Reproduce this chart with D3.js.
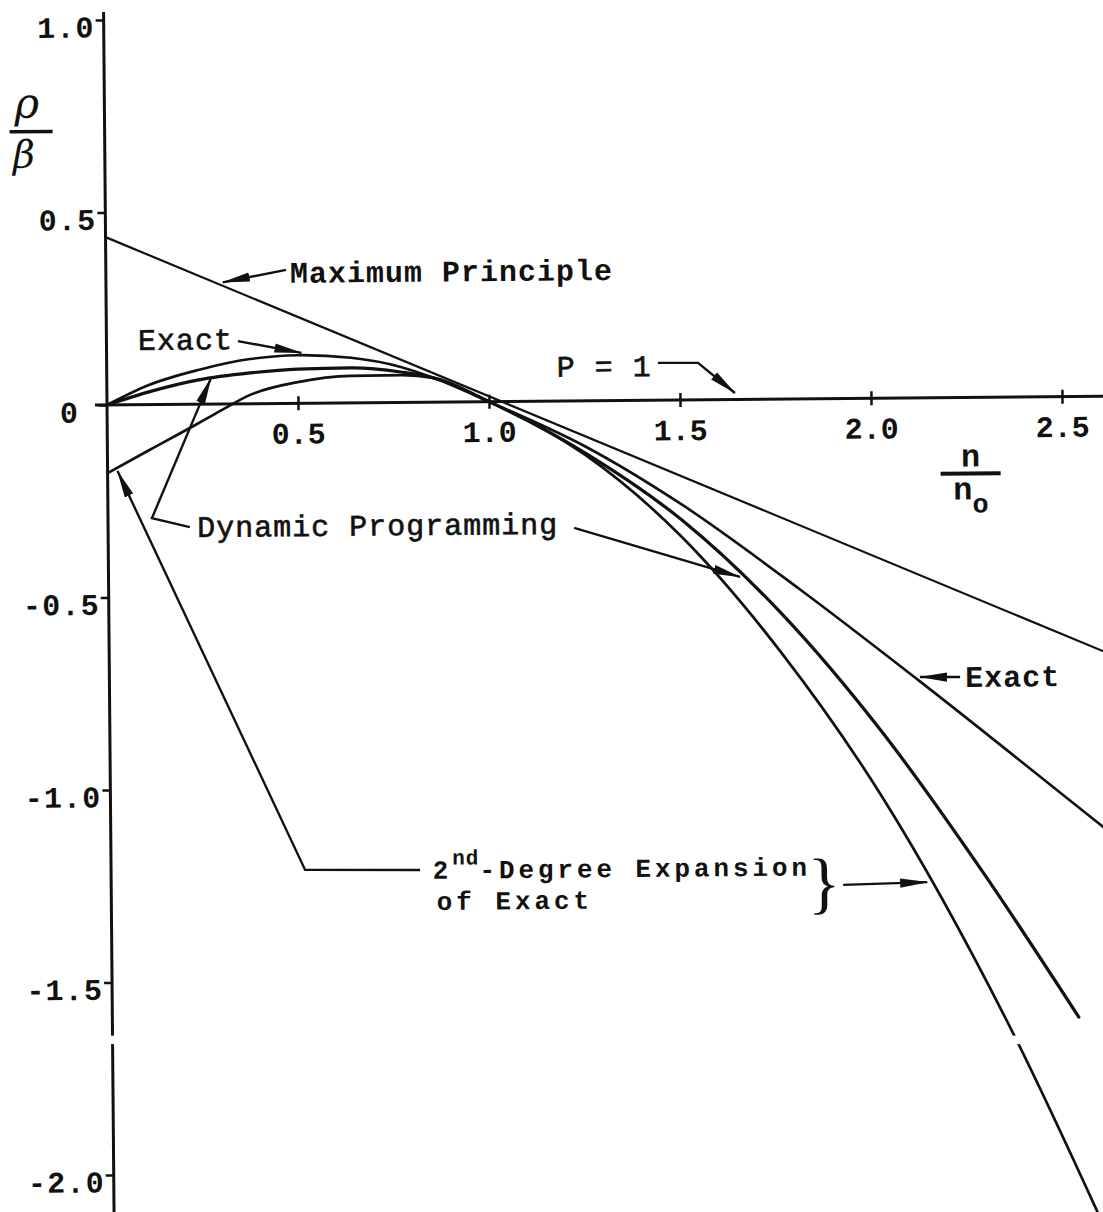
<!DOCTYPE html>
<html>
<head>
<meta charset="utf-8">
<script src="https://cdn.jsdelivr.net/npm/d3@7"></script>
<style>
  body { margin: 0; background: #fff; }
  svg { display: block; }
  .tw { font-family: "Liberation Mono", "Courier New", monospace; fill: #111; }
</style>
</head>
<body>
<svg id="chart" width="1103" height="1212"></svg>
<script>
// axis ticks
const xTicks = [0.5, 1.0, 1.5, 2.0, 2.5];
const yTicks = [1.0, 0.5, 0, -0.5, -1.0, -1.5, -2.0];

// curves (n/n0 , rho/beta)
const maxPrincipleN = [0, 2.63];
const maxPrincipleRho = [0.436, -0.674];

const exactN = [0, 0.11, 0.24, 0.375, 0.5, 0.64, 0.77, 0.855, 1.0, 1.25, 1.5, 1.81, 2.12, 2.6, 2.65];
const exactRho = [0, 0.051, 0.089, 0.116, 0.125, 0.117, 0.092, 0.063, 0, -0.118, -0.27, -0.495, -0.735, -1.12, -1.16];

const dpN = [0, 0.11, 0.24, 0.375, 0.5, 0.64, 0.77, 0.855, 1.0, 1.25, 1.5, 1.76, 2.02, 2.28, 2.53];
const dpRho = [0, 0.033, 0.063, 0.08, 0.089, 0.091, 0.079, 0.063, 0, -0.135, -0.31, -0.556, -0.865, -1.23, -1.612];

const secondN = [0, 0.11, 0.24, 0.3, 0.375, 0.5, 0.64, 0.77, 0.855, 1.0, 1.25, 1.5, 1.76, 2.02, 2.35, 2.62];
const secondRho = [-0.177, -0.118, -0.049, -0.016, 0.023, 0.055, 0.07, 0.071, 0.063, 0, -0.14, -0.354, -0.659, -1.035, -1.637, -2.22];

// the scan has a thin blank strip across the page
const scanGapRho = [-1.638, -1.66];

const svg = d3.select("#chart");

const x = d3.scaleLinear().domain([0, 2.5]).range([107, 1062]);
const y = d3.scaleLinear().domain([-2, 1]).range([1175, 20]);

// the page is scanned slightly crooked
const g = svg.append("g").attr("transform", "rotate(-0.5,105,405)");

const defs = svg.append("defs");
defs.append("marker")
  .attr("id", "arrow")
  .attr("markerUnits", "userSpaceOnUse")
  .attr("viewBox", "0 -6 28 12")
  .attr("refX", 27)
  .attr("refY", 0)
  .attr("markerWidth", 28)
  .attr("markerHeight", 12)
  .attr("orient", "auto")
  .append("path")
  .attr("d", "M0,-4.6L28,0L0,4.6Z")
  .attr("fill", "#111");

// y axis
const yAxis = g.append("g")
  .attr("transform", `translate(${x(0)},0)`)
  .call(d3.axisLeft(y).tickValues(yTicks).tickSize(8)
    .tickFormat((d) => (d === 0 ? "0" : d.toFixed(1))));
yAxis.select(".domain").remove();
yAxis.selectAll(".tick line").attr("stroke", "#111").attr("stroke-width", 2.5);
yAxis.selectAll(".tick text")
  .attr("class", "tw")
  .attr("x", (d) => (d === 0 ? -28 : -9))
  .attr("dy", "0.56em")
  .attr("font-size", 30)
  .attr("letter-spacing", 1.2)
  .attr("font-weight", "bold")
  .attr("fill", "#111");

g.append("line")
  .attr("x1", x(0)).attr("x2", x(0))
  .attr("y1", 12).attr("y2", 1230)
  .attr("stroke", "#111").attr("stroke-width", 3);

// x axis
const xAxis = g.append("g")
  .attr("transform", `translate(0,${y(0)})`)
  .call(d3.axisBottom(x).tickValues(xTicks).tickSize(7).tickFormat(d3.format(".1f")));
xAxis.select(".domain").remove();
xAxis.selectAll(".tick line").attr("y1", -7).attr("stroke", "#111").attr("stroke-width", 2.5);
xAxis.selectAll(".tick text")
  .attr("class", "tw")
  .attr("y", 19)
  .attr("font-size", 30)
  .attr("font-weight", "bold")
  .attr("fill", "#111");

g.append("line")
  .attr("x1", 95).attr("x2", 1120)
  .attr("y1", y(0)).attr("y2", y(0))
  .attr("stroke", "#111").attr("stroke-width", 3);

// curves
const line = d3.line()
  .x((d) => x(d[0]))
  .y((d) => y(d[1]))
  .curve(d3.curveMonotoneX);

const curves = [
  { n: maxPrincipleN, rho: maxPrincipleRho, w: 2.2 },
  { n: exactN, rho: exactRho, w: 2.6 },
  { n: dpN, rho: dpRho, w: 3.2 },
  { n: secondN, rho: secondRho, w: 2.7 },
];

curves.forEach((c) => {
  g.append("path")
    .datum(d3.zip(c.n, c.rho))
    .attr("fill", "none")
    .attr("stroke", "#111")
    .attr("stroke-width", c.w)
    .attr("stroke-linecap", "round")
    .attr("d", line);
});

// leader arrows (in chart units)
const leaders = [
  [[0.472, 0.347], [0.306, 0.316]],                       // Maximum Principle
  [[0.344, 0.163], [0.51, 0.131]],                        // Exact (left)
  [[1.443, 0.097], [1.548, 0.096], [1.644, 0.017]],       // P = 1
  [[0.214, -0.319], [0.115, -0.295], [0.273, 0.068]],     // Dynamic Programming, left
  [[1.22, -0.33], [1.653, -0.461]],                       // Dynamic Programming, right
  [[0.809, -1.215], [0.508, -1.212], [0.026, -0.172]],    // 2nd-degree, left
  [[1.916, -1.263], [2.136, -1.258]],                     // 2nd-degree, right
  [[2.227, -0.726], [2.122, -0.725]],                     // Exact (right)
];

const straight = d3.line().x((d) => x(d[0])).y((d) => y(d[1]));
leaders.forEach((pts) => {
  g.append("path")
    .attr("d", straight(pts))
    .attr("fill", "none")
    .attr("stroke", "#111")
    .attr("stroke-width", 2.4)
    .attr("marker-end", "url(#arrow)");
});

// annotation texts
const notes = [
  { text: "Maximum Principle", n: 0.482, rho: 0.313, bold: true },
  { text: "Exact", n: 0.0825, rho: 0.142, bold: false },
  { text: "P = 1", n: 1.178, rho: 0.063, bold: false },
  { text: "Dynamic Programming", n: 0.233, rho: -0.345, bold: false },
  { text: "Exact", n: 2.24, rho: -0.752, bold: true },
];

notes.forEach((d) => {
  g.append("text")
    .attr("class", "tw")
    .attr("x", x(d.n))
    .attr("y", y(d.rho))
    .attr("font-size", 30)
    .attr("letter-spacing", 1)
    .attr("font-weight", d.bold ? "bold" : "normal")
    .attr("stroke", d.bold ? "none" : "#111")
    .attr("stroke-width", 0.6)
    .text(d.text);
});

// two-line label, set a bit smaller so the lines keep apart
const second = g.append("text")
  .attr("class", "tw")
  .attr("x", x(0.842))
  .attr("y", y(-1.238))
  .attr("font-size", 26)
  .attr("letter-spacing", 3.9)
  .attr("font-weight", "bold");
second.append("tspan").text("2");
second.append("tspan").attr("dy", -14).attr("font-size", 21).attr("letter-spacing", 1).text("nd");
second.append("tspan").attr("dy", 14).text("-Degree Expansion");

g.append("text")
  .attr("class", "tw")
  .attr("x", x(0.852))
  .attr("y", y(-1.319))
  .attr("font-size", 26)
  .attr("letter-spacing", 3.9)
  .attr("font-weight", "bold")
  .text("of Exact");

g.append("text")
  .attr("x", x(1.866))
  .attr("y", y(-1.255))
  .attr("dy", "0.35em")
  .attr("text-anchor", "middle")
  .attr("font-family", "Liberation Serif, serif")
  .attr("font-size", 68)
  .attr("fill", "#111")
  .text("}");

// axis titles
const rhoBeta = g.append("g");
rhoBeta.append("text")
  .attr("x", 17).attr("y", 117)
  .attr("font-family", "DejaVu Serif, serif")
  .attr("font-style", "italic")
  .attr("font-size", 42)
  .attr("fill", "#111")
  .text("ρ");
rhoBeta.append("line")
  .attr("x1", 12).attr("x2", 55)
  .attr("y1", 131).attr("y2", 131)
  .attr("stroke", "#111").attr("stroke-width", 3.5);
rhoBeta.append("text")
  .attr("x", 15).attr("y", 167)
  .attr("font-family", "DejaVu Serif, serif")
  .attr("font-style", "italic")
  .attr("font-size", 38)
  .attr("fill", "#111")
  .text("β");

const nLabel = g.append("g").attr("transform", `translate(970,${y(0)})`);
nLabel.append("text")
  .attr("class", "tw")
  .attr("x", 0).attr("y", 69)
  .attr("text-anchor", "middle")
  .attr("font-size", 32)
  .attr("font-weight", "bold")
  .text("n");
nLabel.append("line")
  .attr("x1", -30).attr("x2", 30)
  .attr("y1", 76).attr("y2", 76)
  .attr("stroke", "#111").attr("stroke-width", 4);
const nLow = nLabel.append("text")
  .attr("class", "tw")
  .attr("x", 0).attr("y", 102)
  .attr("font-size", 32)
  .attr("font-weight", "bold")
  .attr("text-anchor", "middle");
nLow.append("tspan").text("n");
nLow.append("tspan").attr("dy", 13).attr("font-size", 27).text("o");

// blank strip from the scan
svg.append("rect")
  .attr("x", 0)
  .attr("width", 1103)
  .attr("y", y(scanGapRho[0]))
  .attr("height", y(scanGapRho[1]) - y(scanGapRho[0]))
  .attr("fill", "#fff");
</script>
</body>
</html>
